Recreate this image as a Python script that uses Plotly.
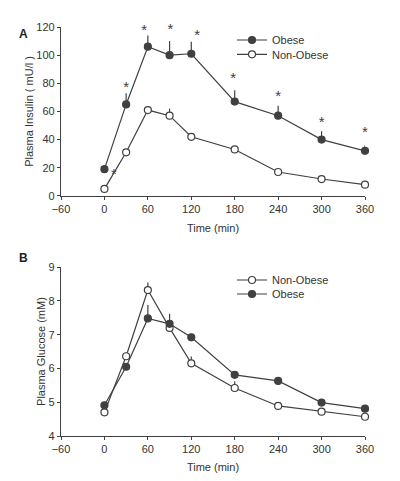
import plotly.graph_objects as go

# ---- data ----
time_min = [0, 30, 60, 90, 120, 180, 240, 300, 360]

insulin_obese = [19, 65, 106, 100, 101, 67, 57, 40, 32]
insulin_obese_err = [0, 8, 8, 10, 8.5, 8, 7, 6, 4]
insulin_nonobese = [5, 31, 61, 57, 42, 33, 17, 12, 8]
insulin_nonobese_err = [0, 2, 1, 5, 0, 0, 0, 0, 0]

glucose_nonobese = [4.70, 6.36, 8.32, 7.20, 6.15, 5.42, 4.89, 4.72, 4.57]
glucose_nonobese_err = [0, 0.1, 0.22, 0, 0.2, 0.2, 0.1, 0, 0]
glucose_obese = [4.91, 6.05, 7.48, 7.32, 6.92, 5.81, 5.63, 4.99, 4.81]
glucose_obese_err = [0.05, 0, 0.4, 0.3, 0.1, 0.05, 0.05, 0.1, 0]

star_times = [13, 30, 55, 91, 128, 178, 240, 300, 360]
star_levels = [14.5, 76.5, 117, 117.8, 113.6, 83, 70.2, 51.3, 44.7]

x_ticks = [-60, 0, 60, 120, 180, 240, 300, 360]

INK = "#404040"
FONT = "Liberation Sans, Arial, sans-serif"

fig = go.Figure()

def series(x, y, err, name, filled, xa, ya, legend):
    fig.add_trace(go.Scatter(
        x=x, y=y, name=name, mode="lines+markers",
        xaxis=xa, yaxis=ya, legend=legend,
        line=dict(color=INK, width=1.2),
        marker=dict(symbol="circle", size=7,
                    color=INK if filled else "white",
                    line=dict(color=INK, width=1.2)),
        error_y=dict(type="data", symmetric=False, array=err,
                     arrayminus=[0] * len(err), width=0,
                     color=INK, thickness=1.2),
        cliponaxis=False,
    ))

# Panel A
series(time_min, insulin_obese, insulin_obese_err, "Obese", True, "x", "y", "legend")
series(time_min, insulin_nonobese, insulin_nonobese_err, "Non-Obese", False, "x", "y", "legend3")
fig.add_trace(go.Scatter(
    x=star_times, y=star_levels, mode="text", text=["*"] * len(star_times),
    textposition="middle center",
    textfont=dict(size=15, color=INK, family=FONT), showlegend=False,
    xaxis="x", yaxis="y", cliponaxis=False, hoverinfo="skip"))

# Panel B
series(time_min, glucose_nonobese, glucose_nonobese_err, "Non-Obese", False, "x2", "y2", "legend2")
series(time_min, glucose_obese, glucose_obese_err, "Obese", True, "x2", "y2", "legend4")

axis_common = dict(
    showline=True, linecolor=INK, linewidth=1.2, showgrid=False, zeroline=False,
    ticks="outside", ticklen=3, tickcolor=INK, tickwidth=1,
    tickfont=dict(size=11, color="#333", family=FONT),
)

# page has an 8px body margin; margins are set so the plot lands where the reference has it
W, H = 400, 481
L, R, T, B = 53, 43, 19, 53
pw, ph = W - L - R, H - T - B

def leg(ypaper):
    return dict(x=0.5625, y=ypaper, xanchor="left", yanchor="middle", itemwidth=30,
                bgcolor="rgba(0,0,0,0)", font=dict(size=11, color="#333"),
                tracegroupgap=0)

fig.update_layout(
    width=W, height=H,
    margin=dict(l=L, r=R, t=T, b=B),
    paper_bgcolor="white", plot_bgcolor="white",
    font=dict(family=FONT, size=11, color="#333"),
    xaxis=dict(domain=[0, 1], anchor="y", range=[-60, 360], tickvals=x_ticks,
               title=dict(text="Time (min)", standoff=10, font=dict(size=11)), **axis_common),
    yaxis=dict(domain=[0.587, 1], anchor="x", range=[0, 120], dtick=20,
               title=dict(text="Plasma Insulin ( mU/l )", standoff=0, font=dict(size=11)), **axis_common),
    xaxis2=dict(domain=[0, 1], anchor="y2", range=[-60, 360], tickvals=x_ticks,
                title=dict(text="Time (min)", standoff=9, font=dict(size=11)), **axis_common),
    yaxis2=dict(domain=[0, 0.413], anchor="x2", range=[4, 9], dtick=1,
                title=dict(text="Plasma Glucose (mM)", standoff=0, font=dict(size=11)), **axis_common),
    legend=leg(0.9682),
    legend3=leg(0.9333),
    legend2=leg(0.3814),
    legend4=leg(0.3472),
    annotations=[
        dict(text="<b>A</b>", x=(9 - L) / pw, y=(H - B - 17) / ph, xref="paper", yref="paper",
             showarrow=False, font=dict(size=12, color="#222")),
        dict(text="<b>B</b>", x=(9 - L) / pw, y=(H - B - 250) / ph, xref="paper", yref="paper",
             showarrow=False, font=dict(size=12, color="#222")),
    ],
)

fig.write_html("out.html")
